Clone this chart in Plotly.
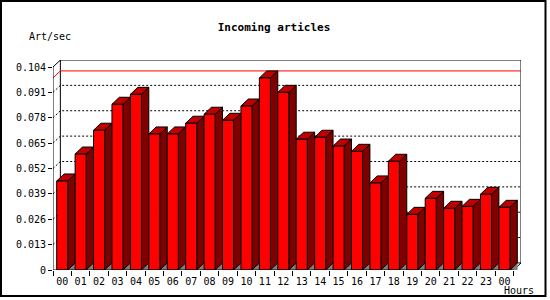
import plotly.graph_objects as go

# ---- data ----
hours = ["00", "01", "02", "03", "04", "05", "06", "07", "08", "09", "10", "11",
         "12", "13", "14", "15", "16", "17", "18", "19", "20", "21", "22", "23", "00"]
art_per_sec = [0.0456, 0.0594, 0.0716, 0.0849, 0.0900, 0.0697, 0.0697, 0.0752,
               0.0798, 0.0767, 0.0840, 0.0984, 0.0910, 0.0670, 0.0680, 0.0635,
               0.0608, 0.0446, 0.0557, 0.0285, 0.0367, 0.0316, 0.0326, 0.0388,
               0.0321]
y_ticks = [0, 0.013, 0.026, 0.039, 0.052, 0.065, 0.078, 0.091, 0.104]
y_tick_labels = ["0", "0.013", "0.026", "0.039", "0.052", "0.065", "0.078", "0.091", "0.104"]

# ---- 3D geometry (in data units) ----
N = len(hours)
YMAX = y_ticks[-1]
DX = 0.4        # depth offset along x (categories)
DY = 0.0036     # depth offset along y (value units)
B0, B1 = 0.2, 0.8  # front face extent within a category

FRONT = "#FF0000"
TOP = "#C00000"
SIDE = "#800000"
FLOOR = "#808080"
FONT = "DejaVu Sans Mono"

fig = go.Figure()


def add_poly(xs, ys, fill, line_color="black", width=1):
    fig.add_trace(go.Scatter(x=xs, y=ys, mode="lines", fill="toself", fillcolor=fill,
                             line=dict(color=line_color, width=width),
                             hoverinfo="skip", showlegend=False))


# back-plane dotted gridlines + connectors to the front axis
gx, gy = [], []
for v in y_ticks[1:-1]:
    gx += [0, DX, N + DX, None]
    gy += [v, v + DY, v + DY, None]
fig.add_trace(go.Scatter(x=gx, y=gy, mode="lines",
                         line=dict(color="black", width=1, dash="2px,2px"),
                         hoverinfo="skip", showlegend=False))

# back box / floor outline
bx = [0, DX, N + DX, N + DX, N, None, DX, DX, None, DX, N + DX]
by = [YMAX, YMAX + DY, YMAX + DY, DY, 0, None, DY, YMAX + DY, None, DY, DY]
fig.add_trace(go.Scatter(x=bx, y=by, mode="lines",
                         line=dict(color="black", width=1),
                         hoverinfo="skip", showlegend=False))

# red max line
vmax = max(art_per_sec)
fig.add_trace(go.Scatter(x=[0, DX, N + DX], y=[vmax, vmax + DY, vmax + DY], mode="lines",
                         line=dict(color="#FF0000", width=1),
                         hoverinfo="skip", showlegend=False))

# floor shadow triangles
fx, fy = [], []
for k in range(N):
    fx += [k + B1, k + B1 + DX, k + B1 + DX, k + B1, None]
    fy += [0, DY, 0, 0, None]
add_poly(fx, fy, FLOOR, FLOOR, 0.5)

# side faces
sx, sy = [], []
for k, v in enumerate(art_per_sec):
    sx += [k + B1, k + B1 + DX, k + B1 + DX, k + B1, k + B1, None]
    sy += [0, DY, v + DY, v, 0, None]
add_poly(sx, sy, SIDE)

# top faces
tx, ty = [], []
for k, v in enumerate(art_per_sec):
    tx += [k + B0, k + B0 + DX, k + B1 + DX, k + B1, k + B0, None]
    ty += [v, v + DY, v + DY, v, v, None]
add_poly(tx, ty, TOP)

# front faces
ox, oy = [], []
for k, v in enumerate(art_per_sec):
    ox += [k + B0, k + B0, k + B1, k + B1, k + B0, None]
    oy += [0, v, v, 0, 0, None]
add_poly(ox, oy, FRONT)

# front axis lines
fig.add_trace(go.Scatter(x=[0, 0, None, 0, N], y=[0, YMAX, None, 0, 0], mode="lines",
                         line=dict(color="black", width=1),
                         hoverinfo="skip", showlegend=False))

L, R, T, Bm = 53, 29, 60, 30
PW, PH = 550 - L - R, 300 - T - Bm

fig.update_layout(
    width=550, height=300,
    margin=dict(l=L, r=R, t=T, b=Bm),
    paper_bgcolor="white", plot_bgcolor="white",
    title=dict(text="<b>Incoming articles</b>", xref="container", yref="container",
               x=274 / 550, y=1 - 27 / 300, xanchor="center", yanchor="middle",
               font=dict(family=FONT, size=11, color="black")),
    xaxis=dict(range=[0, N + DX], showgrid=False, zeroline=False, showline=False,
               tickmode="array", tickvals=[k + 0.5 for k in range(N)], ticktext=hours,
               ticks="outside", ticklen=2, tickcolor="rgba(0,0,0,0)",
               minor=dict(tickmode="array", tickvals=list(range(N + 1)),
                          ticks="outside", ticklen=5, tickcolor="black", tickwidth=1,
                          showgrid=False),
               tickfont=dict(family=FONT, size=10, color="black"), fixedrange=True),
    yaxis=dict(range=[0, YMAX + DY], showgrid=False, zeroline=False, showline=False,
               tickmode="array", tickvals=y_ticks, ticktext=y_tick_labels,
               ticks="outside", ticklen=4, tickcolor="black", tickwidth=1,
               tickfont=dict(family=FONT, size=10, color="black"), fixedrange=True),
    annotations=[
        dict(text="Art/sec", xref="paper", yref="paper", x=(50 - L) / PW,
             y=(270 - 37) / PH, xanchor="center", yanchor="middle", showarrow=False,
             font=dict(family=FONT, size=10, color="black")),
        dict(text="Hours", xref="paper", yref="paper", x=(518.5 - L) / PW,
             y=(270 - 290) / PH, xanchor="center", yanchor="middle", showarrow=False,
             font=dict(family=FONT, size=10, color="black")),
    ],
    shapes=[dict(type="rect", xref="paper", yref="paper",
                 x0=(1 - L) / PW, x1=(545.5 - L) / PW,
                 y0=(270 - 296) / PH, y1=(270 - 1) / PH,
                 line=dict(color="black", width=2), fillcolor="rgba(0,0,0,0)",
                 layer="above")],
)

fig.write_html("out.html", config={"displayModeBar": False})
